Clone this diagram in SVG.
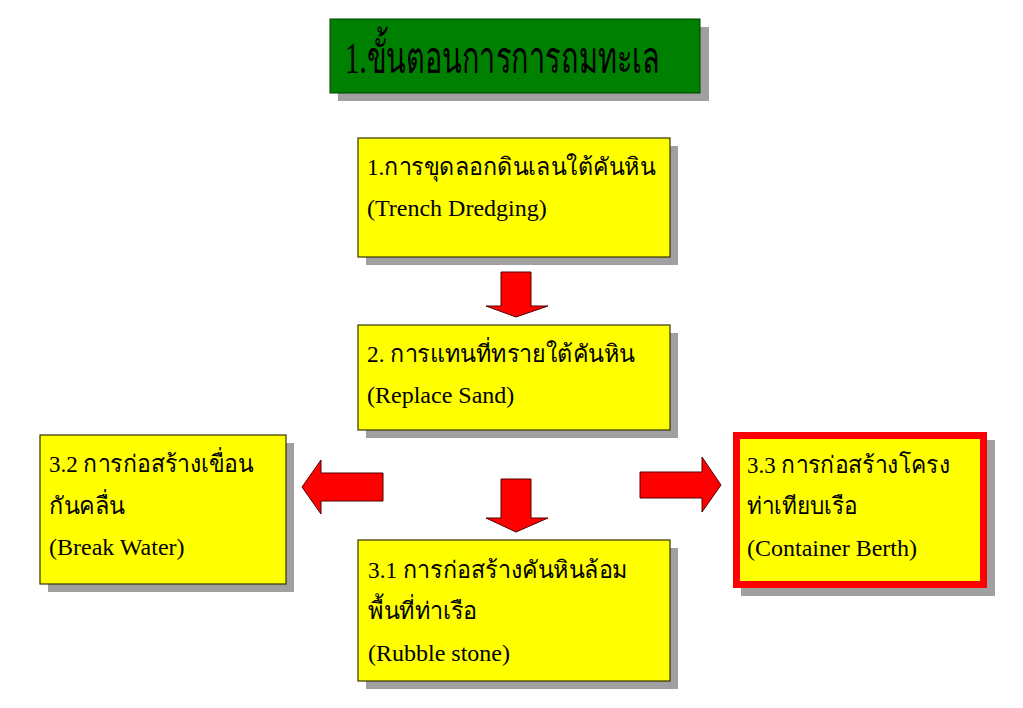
<svg xmlns="http://www.w3.org/2000/svg" width="1023" height="708" viewBox="0 0 1023 708">
<style>
.shadow{fill:#a0a0a0}
.box{fill:#ffff00;stroke:#333300;stroke-width:1.2}
.title{fill:#008000;stroke:#004000;stroke-width:1}
.red{fill:#ffff00;stroke:#ff0000;stroke-width:7}
.arrow{fill:#ff0000;stroke:#500000;stroke-width:1}
text{font-family:"Liberation Serif","Noto Sans","DejaVu Sans",serif;fill:#000}
.t{font-size:24px}
.h{font-size:44px}
</style>
<rect width="1023" height="708" fill="#ffffff"/>
<g id="title">
<rect class="shadow" x="338" y="27" width="371" height="74"/>
<rect class="title" x="330" y="19" width="370" height="74"/>
<text class="h" x="345" y="73" textLength="315" lengthAdjust="spacingAndGlyphs">1.ขั้นตอนการการถมทะเล</text>
</g>
<g id="step1">
<rect class="shadow" x="366" y="146" width="312" height="119"/>
<rect class="box" x="358" y="138" width="312" height="119"/>
<text class="t" x="367" y="175" textLength="288" lengthAdjust="spacingAndGlyphs">1.การขุดลอกดินเลนใต้คันหิน</text>
<text class="t" x="367" y="216">(Trench Dredging)</text>
</g>
<g id="step2">
<rect class="shadow" x="366" y="333" width="312" height="105"/>
<rect class="box" x="358" y="325" width="312" height="105"/>
<text class="t" x="367" y="362" textLength="268" lengthAdjust="spacingAndGlyphs">2. การแทนที่ทรายใต้คันหิน</text>
<text class="t" x="367" y="403">(Replace Sand)</text>
</g>
<g id="step32">
<rect class="shadow" x="48" y="443" width="246" height="149"/>
<rect class="box" x="40" y="435" width="246" height="149"/>
<text class="t" x="49" y="472" textLength="204" lengthAdjust="spacingAndGlyphs">3.2 การก่อสร้างเขื่อน</text>
<text class="t" x="49" y="514" textLength="76" lengthAdjust="spacingAndGlyphs">กันคลื่น</text>
<text class="t" x="49" y="555">(Break Water)</text>
</g>
<g id="step31">
<rect class="shadow" x="366" y="548" width="312" height="141"/>
<rect class="box" x="358" y="540" width="312" height="141"/>
<text class="t" x="368" y="578" textLength="260" lengthAdjust="spacingAndGlyphs">3.1 การก่อสร้างคันหินล้อม</text>
<text class="t" x="368" y="619" textLength="109" lengthAdjust="spacingAndGlyphs">พื้นที่ท่าเรือ</text>
<text class="t" x="368" y="661">(Rubble stone)</text>
</g>
<g id="step33">
<rect class="shadow" x="741" y="440" width="254" height="156"/>
<rect class="red" x="736.5" y="435.5" width="247" height="149"/>
<text class="t" x="747" y="473" textLength="203" lengthAdjust="spacingAndGlyphs">3.3 การก่อสร้างโครง</text>
<text class="t" x="747" y="514" textLength="110" lengthAdjust="spacingAndGlyphs">ท่าเทียบเรือ</text>
<text class="t" x="747" y="556">(Container Berth)</text>
</g>
<g id="connectors">
<polygon class="arrow" points="501,272 531,272 531,306 548,306 516,317 486,306 501,306"/>
<polygon class="arrow" points="501,479 531,479 531,518 548,518 516,532 486,518 501,518"/>
<polygon class="arrow" points="383,473 383,501 321,501 321,514 302,487 321,460 321,473"/>
<polygon class="arrow" points="640,472 702,472 702,457 721,485 702,512 702,498 640,498"/>
</g>
</svg>
